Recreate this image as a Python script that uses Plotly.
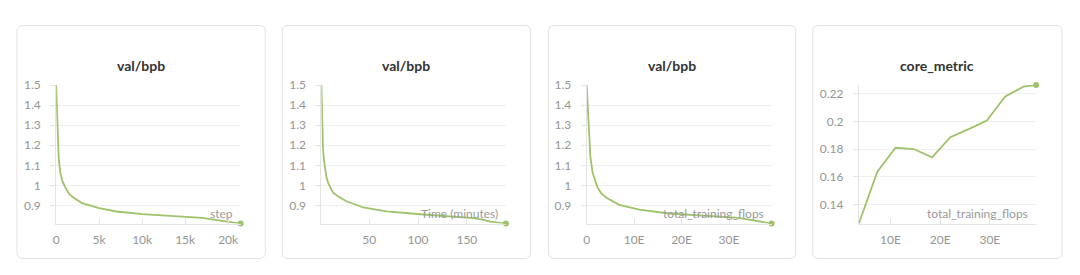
import plotly.graph_objects as go

# ---------------- data ----------------
steps = [0, 60, 120, 200, 300, 500, 750, 1000, 1500, 2000, 3000, 5000, 7000,
         10000, 13000, 15000, 17000, 18500, 20000, 21450]
bpb_by_step = [1.5, 1.40, 1.30, 1.20, 1.13, 1.06, 1.02, 0.995, 0.958, 0.94, 0.912,
               0.887, 0.870, 0.857, 0.848, 0.843, 0.838, 0.828, 0.817, 0.810]

minutes = [1.0, 1.7, 2.5, 3.3, 4.5, 6.0, 7.9, 10.0, 13.0, 18.2, 26.7, 43.8, 67.8,
           105.4, 143.0, 156.8, 166.0, 174.0, 190.0]
bpb_by_time = [1.5, 1.30, 1.20, 1.14, 1.094, 1.045, 1.013, 0.99, 0.964, 0.945, 0.921,
               0.890, 0.871, 0.855, 0.842, 0.837, 0.829, 0.820, 0.810]

flops = [0, 0.2e18, 0.42e18, 0.78e18, 1.26e18, 1.8e18, 2.31e18, 3.0e18, 4.07e18,
         6.87e18, 11.1e18, 17.4e18, 26.5e18, 31.4e18, 33.6e18, 35.6e18, 38.97e18]
bpb_by_flops = [1.5, 1.40, 1.303, 1.142, 1.061, 1.02, 0.989, 0.963, 0.940,
                0.903, 0.879, 0.860, 0.848, 0.840, 0.832, 0.823, 0.810]

core_flops = [3.67e18, 7.35e18, 11.02e18, 14.70e18, 18.38e18, 22.05e18, 25.73e18,
              29.40e18, 33.08e18, 36.75e18, 39.3e18]
core_metric = [0.1263, 0.1636, 0.1810, 0.1801, 0.1741, 0.1887, 0.1945,
               0.2007, 0.2181, 0.2251, 0.2263]

titles = ["val/bpb", "val/bpb", "val/bpb", "core_metric"]
x_labels = ["step", "Time (minutes)", "total_training_flops", "total_training_flops"]
x_dticks = [5000, 50, 10e18, 10e18]
y_dticks = [0.1, 0.1, 0.1, 0.02]

# ---------------- styling / layout ----------------
W, H = 1080, 275
LINE = "#9fc26a"
FONT = "Lato"
TICK_COLOR = "#959595"
cards_px = [(14, 263), (280, 529), (547, 795), (812, 1062)]
card_top, card_bot = 18, 258
plot_x_px = [(53.3, 238.3), (319.3, 504.3), (585.3, 770.7), (858.3, 1036.0)]
plot_top, plot_bot = 79.3, 222.0

series = [(steps, bpb_by_step), (minutes, bpb_by_time), (flops, bpb_by_flops),
          (core_flops, core_metric)]

fig = go.Figure()
layout = dict(
    width=W, height=H, margin=dict(l=0, r=0, t=0, b=0),
    paper_bgcolor="white", plot_bgcolor="white", showlegend=False,
    font=dict(family=FONT, size=12, color=TICK_COLOR),
    shapes=[], annotations=[],
)


def fx(px):
    return px / W


def fy(py):
    return 1 - py / H


for i, ((xs, ys), title, xl, xd, yd) in enumerate(
        zip(series, titles, x_labels, x_dticks, y_dticks)):
    n = i + 1
    xa, ya = ("x" if n == 1 else f"x{n}"), ("y" if n == 1 else f"y{n}")
    fig.add_trace(go.Scatter(x=xs, y=ys, mode="lines", xaxis=xa, yaxis=ya,
                             line=dict(color=LINE, width=1.8), hoverinfo="skip"))
    fig.add_trace(go.Scatter(x=[xs[-1]], y=[ys[-1]], mode="markers", xaxis=xa, yaxis=ya,
                             marker=dict(color=LINE, size=6), cliponaxis=False,
                             hoverinfo="skip"))
    x0, x1 = plot_x_px[i]
    ymin, ymax = min(ys), max(ys)
    yspan = ymax - ymin
    layout["xaxis" if n == 1 else f"xaxis{n}"] = dict(
        domain=[fx(x0), fx(x1)], anchor=ya, range=[min(xs), max(xs)],
        showgrid=False, zeroline=False, showline=True, linecolor="#e4e4e4", linewidth=1,
        ticks="inside", ticklen=6, tickcolor="#e4e4e4", dtick=xd, tick0=0,
        tickformat="~s", tickfont=dict(family=FONT, size=12, color=TICK_COLOR),
        ticklabelstandoff=5, fixedrange=True,
    )
    layout["yaxis" if n == 1 else f"yaxis{n}"] = dict(
        domain=[fy(plot_bot), fy(plot_top)], anchor=xa,
        range=[ymin, ymax + yspan * 0.0005],
        showgrid=True, gridcolor="#efefef", gridwidth=1, zeroline=False,
        showline=True, linecolor="#e4e4e4", linewidth=1,
        ticks="outside", ticklen=5, tickcolor="#e4e4e4", dtick=yd, tick0=0,
        tickfont=dict(family=FONT, size=12, color=TICK_COLOR),
        ticklabelstandoff=7, fixedrange=True,
    )
    # card
    c0, c1 = cards_px[i]
    r = 6
    path = (f"M {fx(c0 + r)},{fy(card_top)} L {fx(c1 - r)},{fy(card_top)} "
            f"Q {fx(c1)},{fy(card_top)} {fx(c1)},{fy(card_top + r)} "
            f"L {fx(c1)},{fy(card_bot - r)} Q {fx(c1)},{fy(card_bot)} {fx(c1 - r)},{fy(card_bot)} "
            f"L {fx(c0 + r)},{fy(card_bot)} Q {fx(c0)},{fy(card_bot)} {fx(c0)},{fy(card_bot - r)} "
            f"L {fx(c0)},{fy(card_top + r)} Q {fx(c0)},{fy(card_top)} {fx(c0 + r)},{fy(card_top)} Z")
    layout["shapes"].append(dict(type="path", path=path, xref="paper", yref="paper",
                                 line=dict(color="#e2e2e2", width=1), fillcolor="rgba(0,0,0,0)",
                                 layer="below"))
    # title
    layout["annotations"].append(dict(
        text=f"<b>{title}</b>", xref="paper", yref="paper", x=fx((c0 + c1) / 2), y=fy(59),
        xanchor="center", yanchor="middle", showarrow=False,
        font=dict(family=FONT, size=14, color="#333333")))
    # x-axis label inside plot
    layout["annotations"].append(dict(
        text=xl, xref=f"{xa} domain", yref=f"{ya} domain", x=1, y=0,
        xanchor="right", yanchor="bottom", xshift=-6, yshift=1, showarrow=False,
        font=dict(family=FONT, size=12, color="#9a9a9a")))

fig.update_layout(**layout)
fig.write_html("out.html")
